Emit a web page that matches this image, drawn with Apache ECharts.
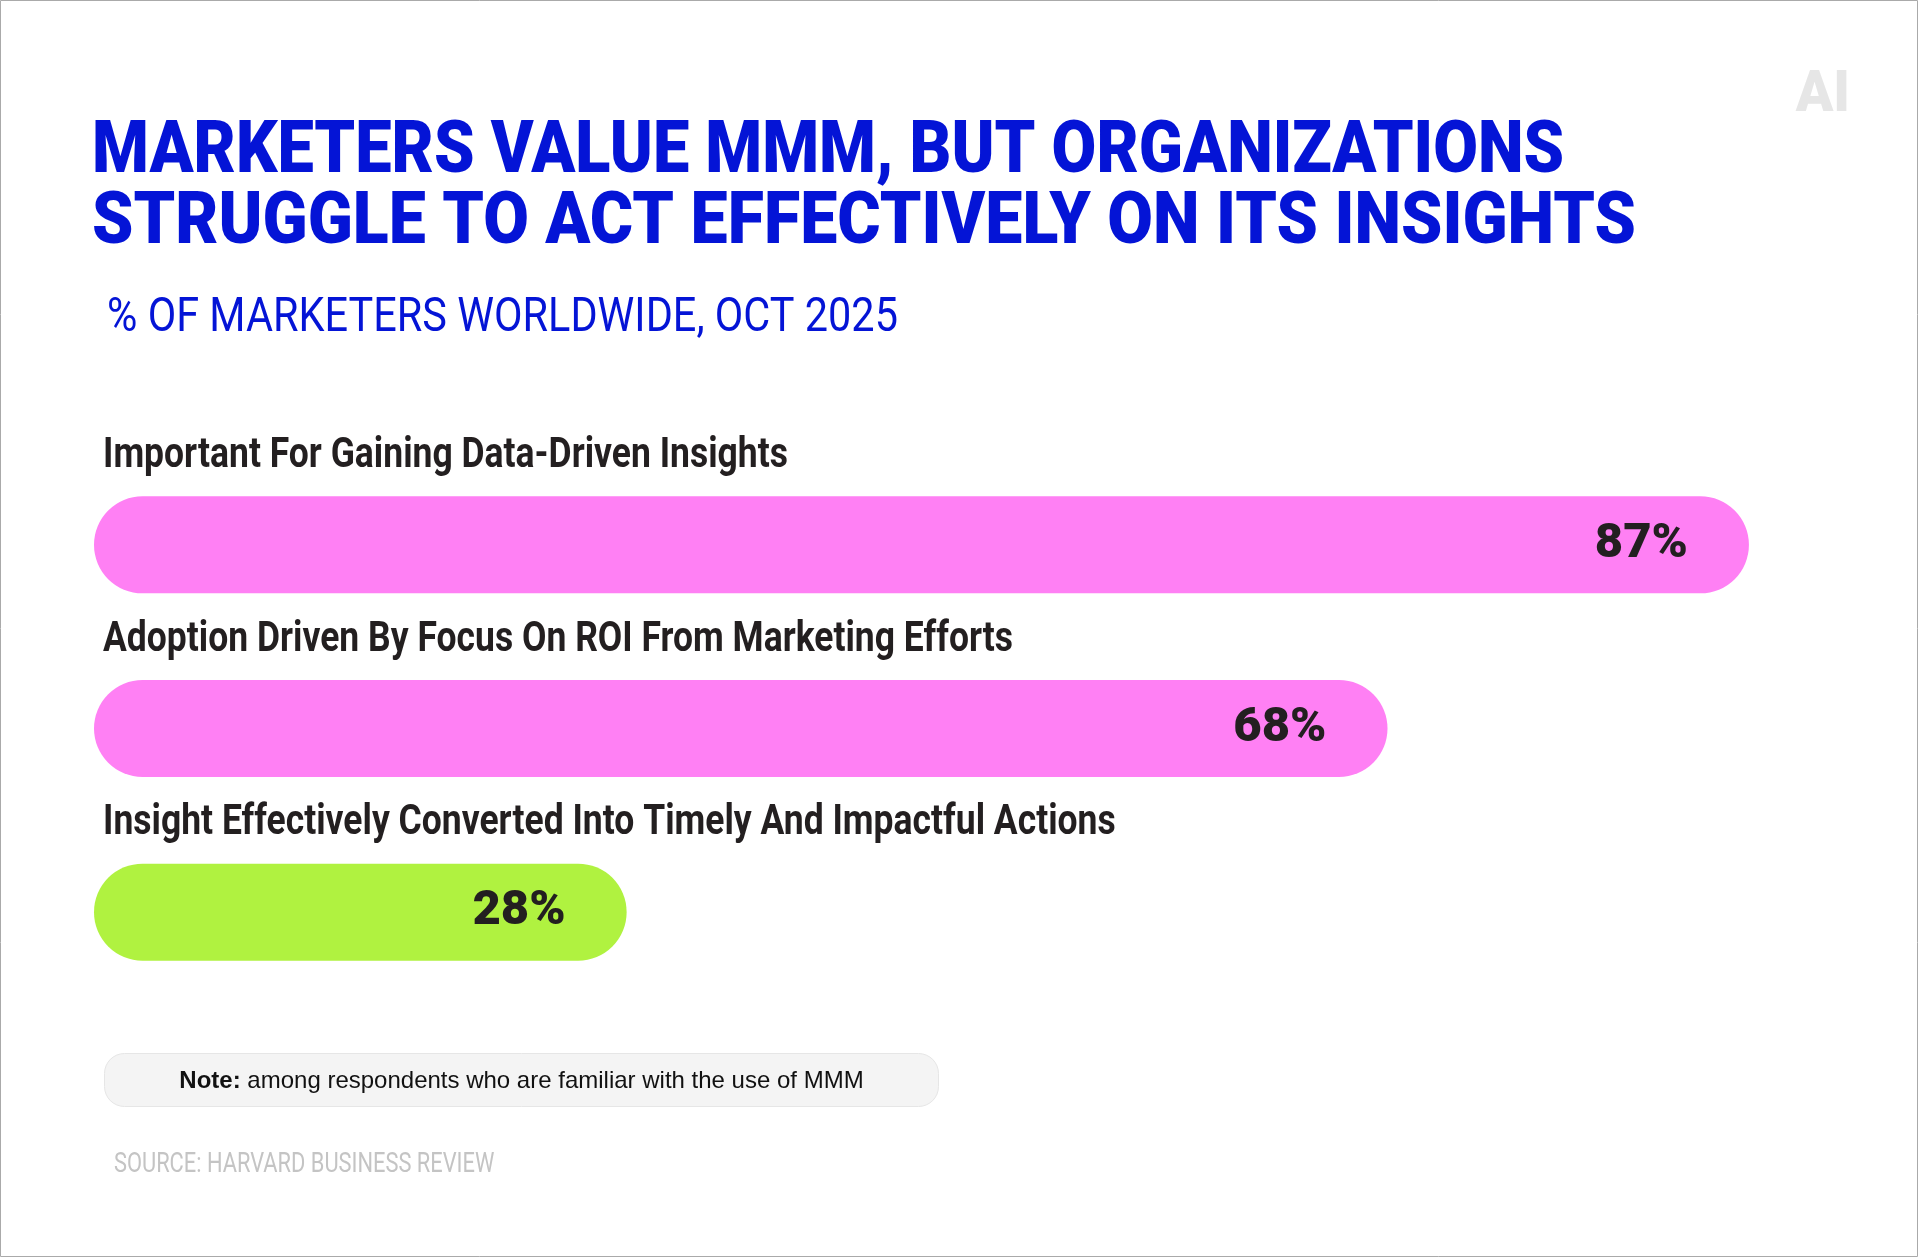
<!DOCTYPE html>
<html>
<head>
<meta charset="utf-8">
<script src="https://cdn.jsdelivr.net/npm/echarts@6/dist/echarts.min.js"></script>
<style>
  html, body { margin: 0; padding: 0; background: #ffffff; overflow: hidden; }
  #chart { width: 1918px; height: 1257px; }
</style>
</head>
<body>
<div id="chart"></div>
<script>
// ---- data ----
const titleLines = [
  'MARKETERS VALUE MMM, BUT ORGANIZATIONS',
  'STRUGGLE TO ACT EFFECTIVELY ON ITS INSIGHTS'
];
const subtitleText = '% OF MARKETERS WORLDWIDE, OCT 2025';
const categories = [
  'Important For Gaining Data-Driven Insights',
  'Adoption Driven By Focus On ROI From Marketing Efforts',
  'Insight Effectively Converted Into Timely And Impactful Actions'
];
const values = [87, 68, 28];
const barColors = ['#ff80f4', '#ff80f4', '#b0f240'];
const noteLabel = 'Note:';
const noteText = ' among respondents who are familiar with the use of MMM';
const sourceText = 'SOURCE: HARVARD BUSINESS REVIEW';
const logoText = 'AI';

const ROBOTO = "Roboto, 'Noto Sans', sans-serif";
const SANS = "'Liberation Sans', Arial, sans-serif";
const BLUE = '#0414d6';
const DARK = '#231f20';

const chart = echarts.init(document.getElementById('chart'), null, { renderer: 'canvas' });

function txt(text, x, y, sx, style) {
  return {
    type: 'text', silent: true, x: x, y: y, scaleX: sx,
    style: Object.assign({ text: text, align: 'left', verticalAlign: 'middle' }, style)
  };
}

const option = {
  backgroundColor: '#ffffff',
  animation: false,
  grid: { left: 94, right: 112, top: 453, height: 551, containLabel: false },
  xAxis: { type: 'value', min: 0, max: 90, show: false, splitLine: { show: false } },
  yAxis: {
    type: 'category', data: categories, inverse: true,
    axisLine: { show: false }, axisTick: { show: false }, splitLine: { show: false },
    axisLabel: { show: false }
  },
  series: [
    {
      type: 'bar',
      barWidth: 97,
      data: values.map((v, i) => ({ value: v, itemStyle: { color: barColors[i] } })),
      itemStyle: { borderRadius: 48.5 },
      label: {
        show: true, position: 'insideRight', distance: 61,
        formatter: '{c}%',
        fontFamily: ROBOTO, fontSize: 49, fontWeight: 900, color: DARK
      }
    },
    {
      type: 'custom',
      data: categories.map((c, i) => [0, i]),
      encode: { x: 0, y: 1 },
      silent: true,
      renderItem: function (params, api) {
        const p = api.coord([0, api.value(1)]);
        return {
          type: 'text',
          x: p[0] + 9, y: p[1] - 88.5, scaleX: 0.845,
          style: {
            text: categories[params.dataIndex],
            align: 'left', verticalAlign: 'middle',
            fontFamily: ROBOTO, fontSize: 42, fontWeight: 'bold', fill: DARK
          }
        };
      }
    }
  ],
  graphic: [
    {
      type: 'rect', silent: true, z: 0,
      shape: { x: 0.5, y: 0.5, width: 1917, height: 1256 },
      style: { fill: null, stroke: '#aaaaaa', lineWidth: 1 }
    },
    txt(titleLines[0], 92, 153.5, 0.901, { fontFamily: ROBOTO, fontSize: 72, fontWeight: 900, fill: BLUE }),
    txt(titleLines[1], 92, 224.5, 0.920, { fontFamily: ROBOTO, fontSize: 72, fontWeight: 900, fill: BLUE }),
    txt(subtitleText, 107, 318.5, 0.846, { fontFamily: ROBOTO, fontSize: 49, fontWeight: 'normal', fill: BLUE }),
    txt(sourceText, 114, 1165, 0.78, { fontFamily: ROBOTO, fontSize: 28, fontWeight: 'normal', fill: '#c4c4c4' }),
    {
      type: 'text', silent: true, x: 1850, y: 96.5, scaleX: 0.97,
      style: {
        text: logoText, align: 'right', verticalAlign: 'middle',
        fontFamily: ROBOTO, fontSize: 57, fontWeight: 900, fill: '#e6e6e6'
      }
    },
    {
      type: 'rect', silent: true,
      shape: { x: 104.5, y: 1053.5, width: 834, height: 53, r: 20 },
      style: { fill: '#f4f4f4', stroke: '#e6e6e6', lineWidth: 1 }
    },
    {
      type: 'text', silent: true, z: 10, x: 521.5, y: 1081,
      style: {
        text: '{b|' + noteLabel + '}{r|' + noteText + '}',
        align: 'center', verticalAlign: 'middle',
        rich: {
          b: { fontFamily: SANS, fontSize: 24, fontWeight: 'bold', fill: '#111111' },
          r: { fontFamily: SANS, fontSize: 24, fontWeight: 'normal', fill: '#111111' }
        }
      }
    }
  ]
};

chart.setOption(option);
</script>
</body>
</html>
